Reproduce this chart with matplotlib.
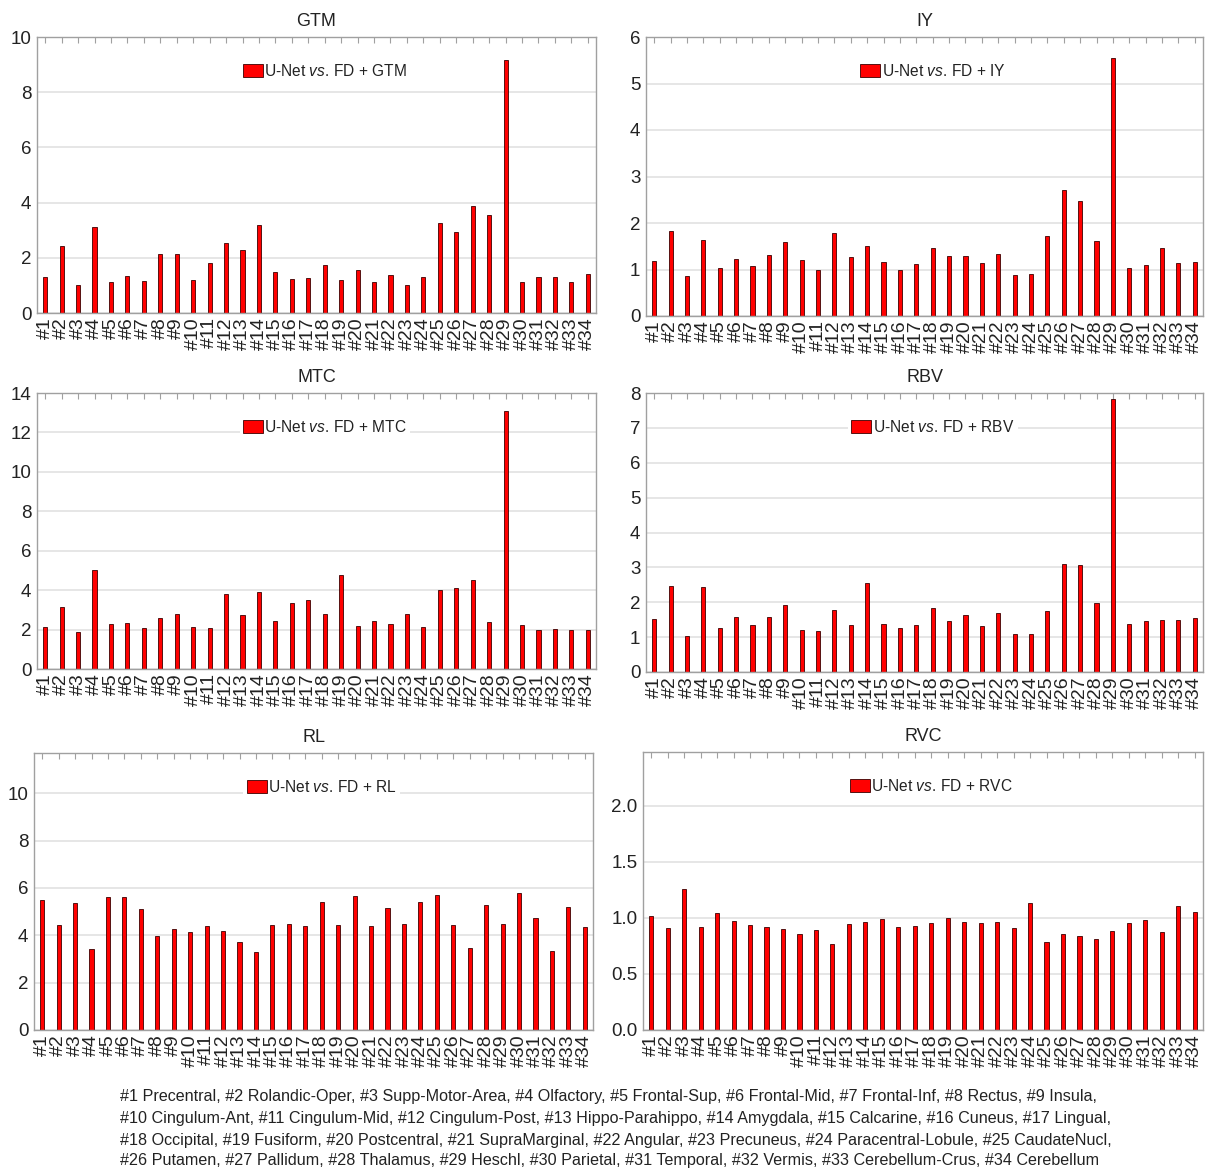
import matplotlib
matplotlib.use("Agg")
import matplotlib.pyplot as plt
import numpy as np

plt.rcParams['font.family'] = ['Liberation Sans', 'DejaVu Sans']
plt.rcParams['mathtext.fontset'] = 'custom'
plt.rcParams['mathtext.it'] = 'Liberation Sans:italic'
plt.rcParams['mathtext.rm'] = 'Liberation Sans'

categories = [f"#{i}" for i in range(1, 35)]

gtm = [1.29, 2.43, 1.00, 3.11, 1.12, 1.35, 1.17, 2.14, 2.13, 1.20, 1.82, 2.55, 2.27, 3.18,
       1.48, 1.22, 1.28, 1.75, 1.19, 1.57, 1.12, 1.39, 1.02, 1.29, 3.27, 2.94, 3.87, 3.54,
       9.18, 1.11, 1.30, 1.31, 1.14, 1.41]
iy = [1.18, 1.82, 0.87, 1.64, 1.03, 1.22, 1.08, 1.32, 1.59, 1.20, 0.98, 1.79, 1.27, 1.51,
      1.17, 1.00, 1.12, 1.47, 1.30, 1.30, 1.14, 1.33, 0.89, 0.91, 1.71, 2.72, 2.47, 1.61,
      5.55, 1.03, 1.10, 1.47, 1.14, 1.17]
mtc = [2.14, 3.15, 1.87, 5.03, 2.28, 2.34, 2.06, 2.61, 2.80, 2.11, 2.07, 3.79, 2.72, 3.91,
       2.45, 3.34, 3.49, 2.80, 4.76, 2.18, 2.43, 2.29, 2.78, 2.11, 4.01, 4.10, 4.52, 2.38,
       13.1, 2.24, 1.97, 2.04, 1.96, 1.97]
rbv = [1.53, 2.46, 1.02, 2.45, 1.27, 1.57, 1.34, 1.58, 1.93, 1.20, 1.17, 1.79, 1.34, 2.54,
       1.38, 1.27, 1.34, 1.84, 1.46, 1.64, 1.33, 1.70, 1.10, 1.10, 1.76, 3.10, 3.08, 1.98,
       7.84, 1.38, 1.47, 1.48, 1.48, 1.54]
rl = [5.51, 4.42, 5.35, 3.43, 5.62, 5.62, 5.11, 3.97, 4.28, 4.12, 4.38, 4.19, 3.72, 3.30,
      4.45, 4.48, 4.40, 5.41, 4.42, 5.65, 4.40, 5.14, 4.48, 5.41, 5.70, 4.42, 3.48, 5.29,
      4.47, 5.79, 4.71, 3.33, 5.18, 4.34]
rvc = [1.015, 0.908, 1.261, 0.920, 1.047, 0.976, 0.938, 0.920, 0.902, 0.852, 0.890, 0.763,
       0.944, 0.967, 0.994, 0.923, 0.926, 0.958, 1.000, 0.964, 0.953, 0.961, 0.908, 1.131,
       0.786, 0.858, 0.837, 0.816, 0.881, 0.953, 0.979, 0.875, 1.107, 1.056]

panel_names = ["GTM", "IY", "MTC", "RBV", "RL", "RVC"]
panel_values = [gtm, iy, mtc, rbv, rl, rvc]
panel_ylims = [(0, 10), (0, 6), (0, 14), (0, 8), (0, 11.7), (0, 2.48)]
panel_yticks = [[0, 2, 4, 6, 8, 10], [0, 1, 2, 3, 4, 5, 6], [0, 2, 4, 6, 8, 10, 12, 14],
                [0, 1, 2, 3, 4, 5, 6, 7, 8], [0, 2, 4, 6, 8, 10], [0.0, 0.5, 1.0, 1.5, 2.0]]
panel_yfmt = ["{:g}", "{:g}", "{:g}", "{:g}", "{:g}", "{:.1f}"]

caption_lines = [
    "#1 Precentral, #2 Rolandic-Oper, #3 Supp-Motor-Area, #4 Olfactory, #5 Frontal-Sup, #6 Frontal-Mid, #7 Frontal-Inf, #8 Rectus, #9 Insula,",
    "#10 Cingulum-Ant, #11 Cingulum-Mid, #12 Cingulum-Post, #13 Hippo-Parahippo, #14 Amygdala, #15 Calcarine, #16 Cuneus, #17 Lingual,",
    "#18 Occipital, #19 Fusiform, #20 Postcentral, #21 SupraMarginal, #22 Angular, #23 Precuneus, #24 Paracentral-Lobule, #25 CaudateNucl,",
    "#26 Putamen, #27 Pallidum, #28 Thalamus, #29 Heschl, #30 Parietal, #31 Temporal, #32 Vermis, #33 Cerebellum-Crus, #34 Cerebellum",
]

W, H = 1205, 1170
fig = plt.figure(figsize=(W / 100, H / 100), dpi=100)

# axes rectangles in pixels: left, top, right, bottom
rects_px = [(37, 37, 596, 313), (646, 37, 1203, 316),
            (37, 393, 596, 669), (646, 393, 1203, 672),
            (34, 753, 593, 1030), (643, 752, 1203, 1030)]

x = np.arange(1, 35)
edge_gray = "#a0a0a0"
for name, vals, ylim, yt, fmt, (l, t, r, b) in zip(panel_names, panel_values, panel_ylims,
                                                  panel_yticks, panel_yfmt, rects_px):
    ax = fig.add_axes([l / W, (H - b) / H, (r - l) / W, (b - t) / H])
    ax.set_axisbelow(True)
    ax.bar(x, vals, width=0.25, color="#ff0000", edgecolor="#3a0000", linewidth=0.6,
           label=f"U-Net $\\mathit{{vs.}}\\,$FD + {name}")
    ax.set_xlim(0.5, 34.5)
    ax.set_ylim(*ylim)
    ax.set_yticks(yt)
    ax.set_yticklabels([fmt.format(v) for v in yt], fontsize=13.5, color="#222222")
    ax.set_xticks(x)
    ax.set_xticklabels(categories, rotation=90, fontsize=14, color="#222222")
    ax.tick_params(axis='x', direction='in', top=True, bottom=True, length=4,
                   color=edge_gray, pad=3)
    ax.tick_params(axis='y', direction='in', left=False, right=False, length=0, pad=4)
    ax.yaxis.grid(True, color="#e6e6e6", linewidth=1.4)
    for s in ax.spines.values():
        s.set_color(edge_gray)
        s.set_linewidth(1.0)
    ax.set_title(name, fontsize=13, color="#222222", pad=8)
    leg = ax.legend(loc="center", bbox_to_anchor=(0.515, 0.877), fontsize=11.2,
                    frameon=True, fancybox=False, framealpha=1, edgecolor="none",
                    facecolor="white", handlelength=1.3, handleheight=0.9,
                    handletextpad=0.1, borderpad=0.2)
    for txt in leg.get_texts():
        txt.set_color("#222222")

caption_y = [1097, 1118, 1140, 1161]
for line, yy in zip(caption_lines, caption_y):
    fig.text(120 / W, 1 - yy / H, line, fontsize=11.6, ha="left", va="center", color="#222222")

fig.savefig("out.png", dpi=100)
